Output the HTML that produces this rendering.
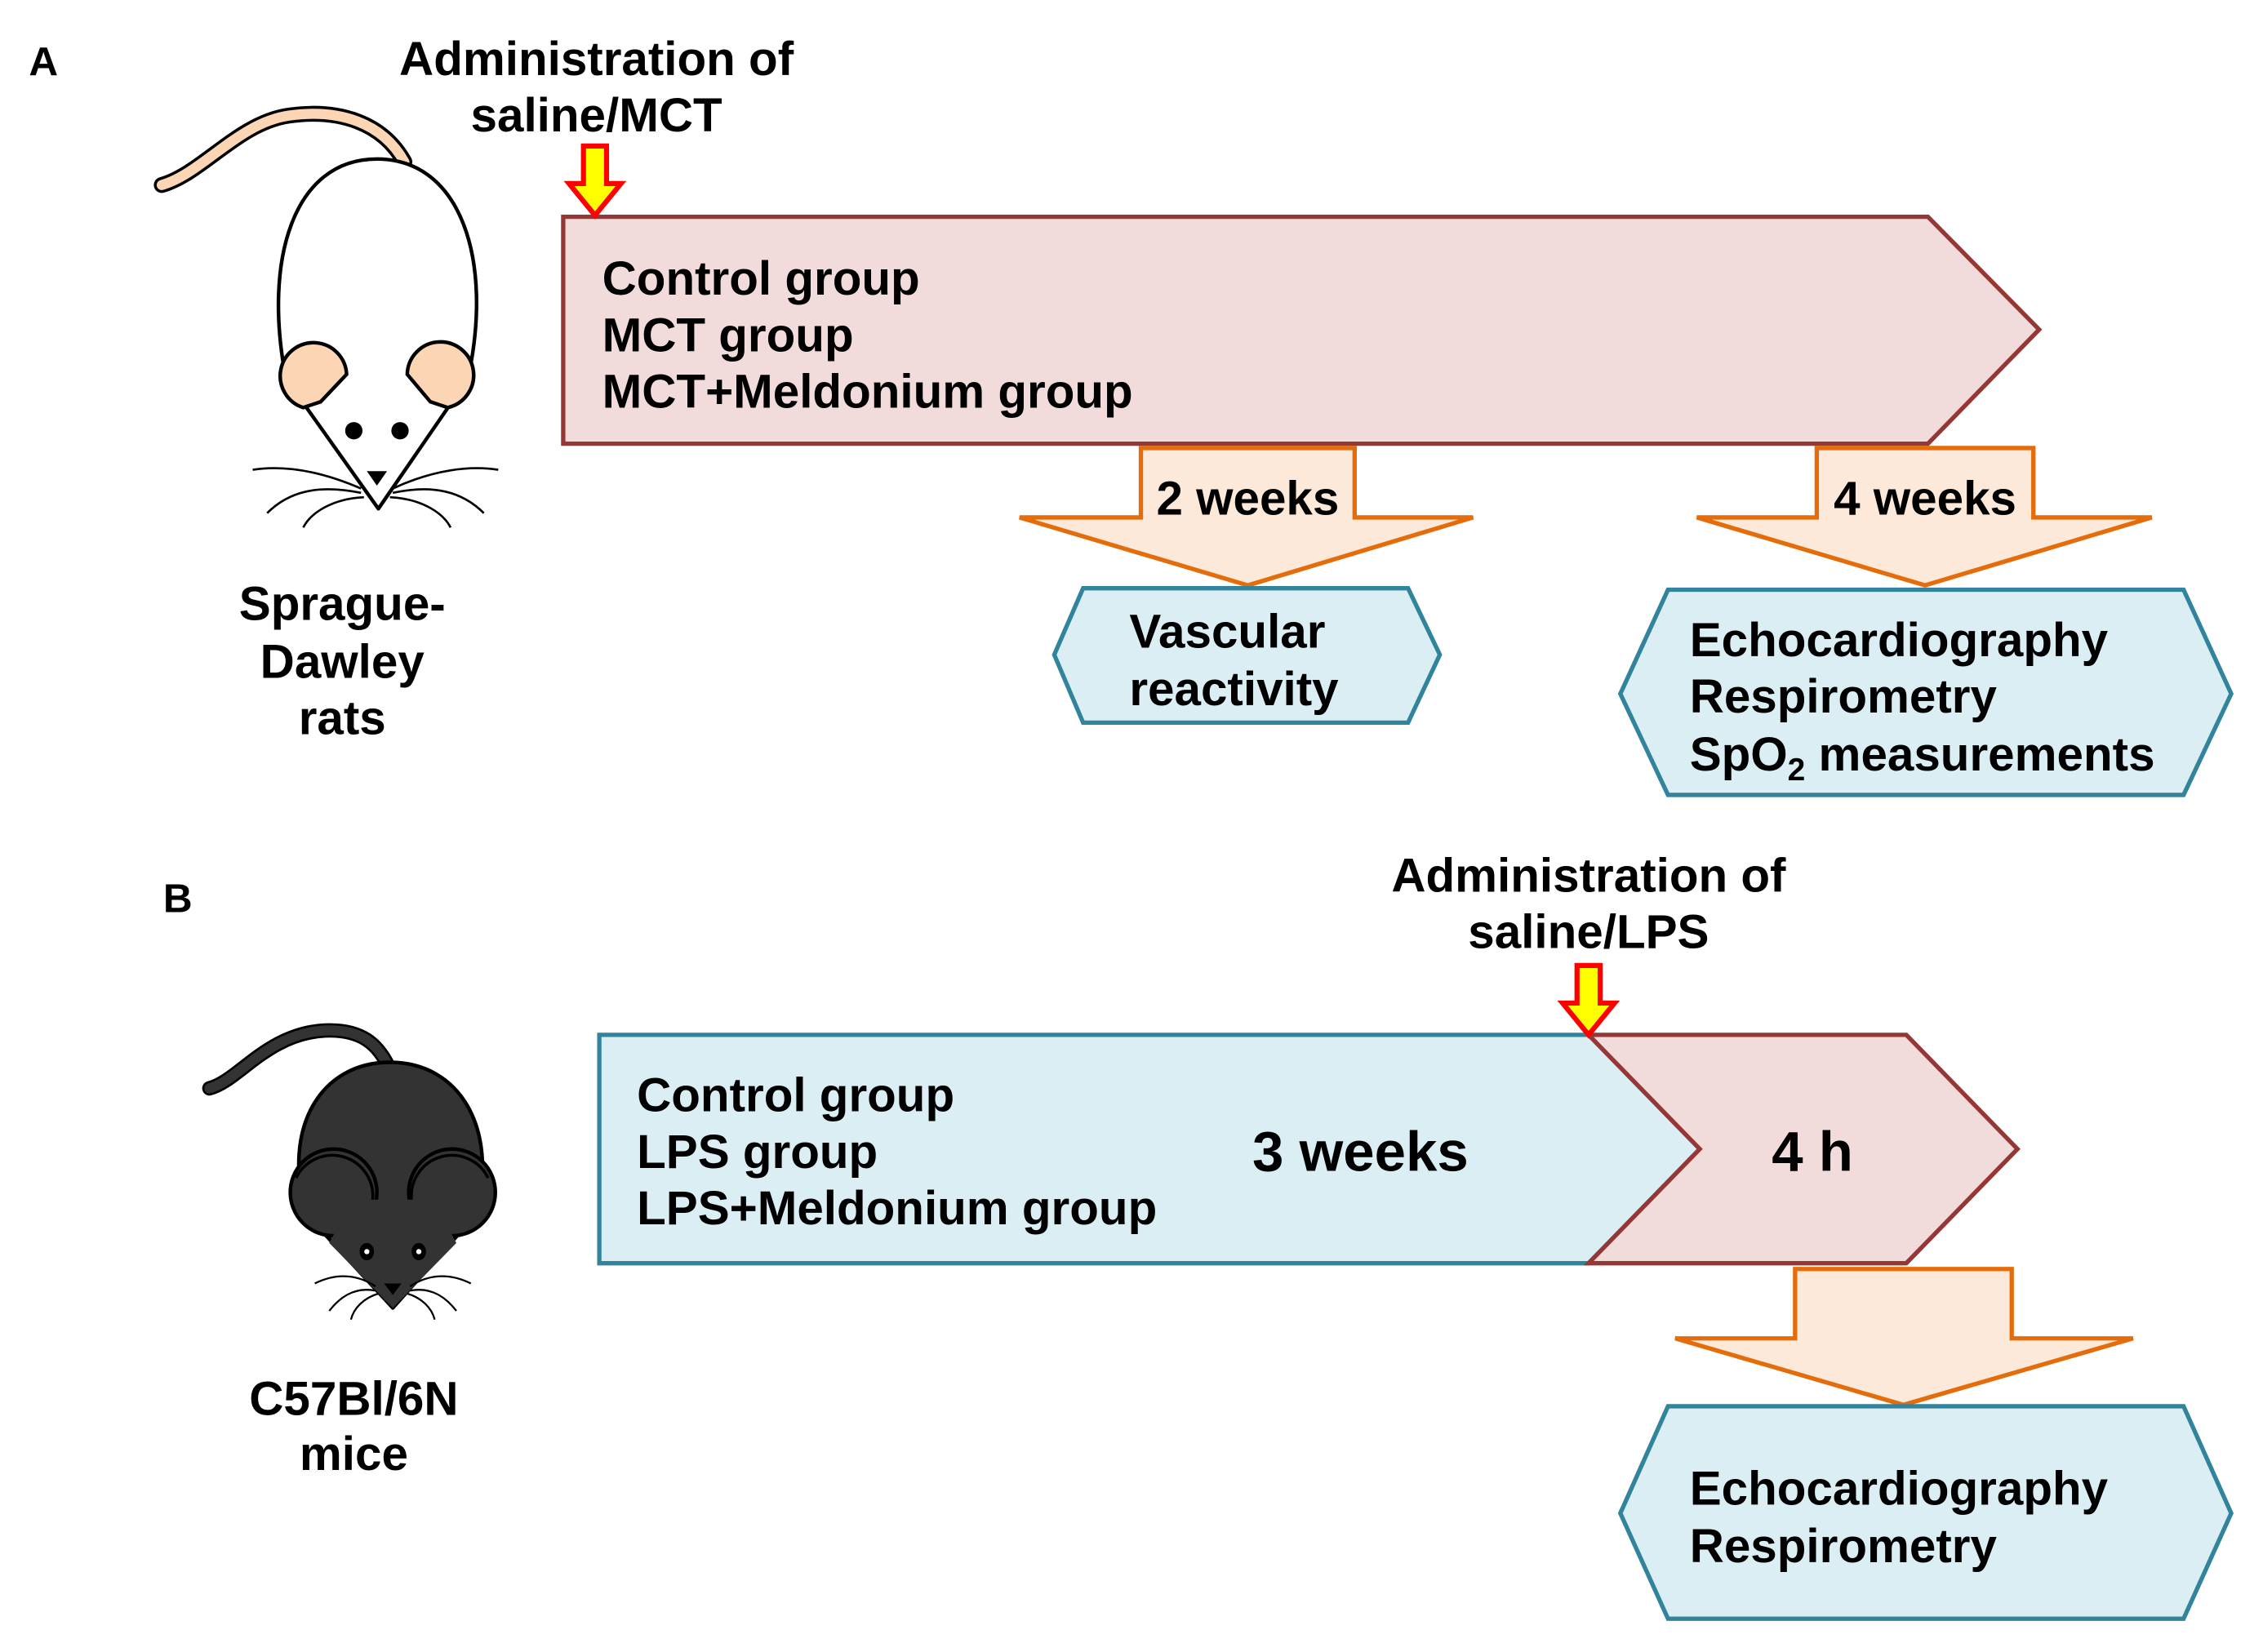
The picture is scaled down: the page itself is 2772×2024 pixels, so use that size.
<!DOCTYPE html>
<html><head><style>html,body{margin:0;padding:0;background:#fff}svg{display:block}</style></head><body>
<svg width="2772" height="2024" viewBox="0 0 1567 1143" preserveAspectRatio="none" xmlns="http://www.w3.org/2000/svg" font-family="Liberation Sans, Arial, sans-serif" font-weight="bold">
<defs>
<g id="redarrow"><polygon points="-8,0 8,0 8,26 18,26 0,48 -18,26 -8,26" fill="#ffff00" stroke="#ff0000" stroke-width="3.5" stroke-linejoin="miter"/></g>
</defs>
<!-- Panel A -->
<text x="20" y="52" font-size="28">A</text>
<text x="413" y="52" font-size="33" text-anchor="middle">Administration of</text>
<text x="413" y="91" font-size="33" text-anchor="middle">saline/MCT</text>
<polygon points="390,150 1335,150 1412,228 1335,307 390,307" fill="#f2dcdb" stroke="#953735" stroke-width="3"/>
<use href="#redarrow" x="412" y="101"/>
<text font-size="33"><tspan x="417" y="204">Control group</tspan><tspan x="417" y="243">MCT group</tspan><tspan x="417" y="282">MCT+Meldonium group</tspan></text>
<polygon points="790,310 938,310 938,358 1020,358 864,405 706,358 790,358" fill="#fde9d9" stroke="#e46c0a" stroke-width="3"/>
<text x="864" y="356" font-size="33" text-anchor="middle">2 weeks</text>
<polygon points="730,453 750,407 975,407 997,453 975,500 750,500" fill="#dbeef4" stroke="#31849b" stroke-width="3"/>
<text font-size="33"><tspan x="782" y="448">Vascular</tspan><tspan x="782" y="488">reactivity</tspan></text>
<polygon points="1258,310 1408,310 1408,358 1490,358 1333,405 1175,358 1258,358" fill="#fde9d9" stroke="#e46c0a" stroke-width="3"/>
<text x="1333" y="356" font-size="33" text-anchor="middle">4 weeks</text>
<polygon points="1122,480 1155,408 1512,408 1545,480 1512,550 1155,550" fill="#dbeef4" stroke="#31849b" stroke-width="3"/>
<text font-size="33"><tspan x="1170" y="454">Echocardiography</tspan><tspan x="1170" y="493">Respirometry</tspan><tspan x="1170" y="533">SpO<tspan font-size="22" dy="7">2</tspan><tspan dy="-7"> measurements</tspan></tspan></text>
<!-- Rat -->
<path d="M112,128 C140,120 165,85 200,80 C235,75 265,85 280,112" fill="none" stroke="#000" stroke-width="11" stroke-linecap="round"/>
<path d="M112,128 C140,120 165,85 200,80 C235,75 265,85 280,112" fill="none" stroke="#fcd5b4" stroke-width="7" stroke-linecap="round"/>
<path d="M198,262 C182,180 203,110 261,110 C319,110 342,180 324,262 L262,352 Z" fill="#fff" stroke="#000" stroke-width="2.5" stroke-linejoin="round"/>
<path d="M210,282 A23,23 0 1 1 240,259 L222,278 Z" fill="#fcd5b4" stroke="#000" stroke-width="2.5"/>
<path d="M310,282 A23,23 0 1 0 282,259 L298,278 Z" fill="#fcd5b4" stroke="#000" stroke-width="2.5"/>
<circle cx="245" cy="298" r="6"/><circle cx="277" cy="298" r="6"/>
<path d="M254,326 L268,326 L261,336 Z"/>
<g fill="none" stroke="#000" stroke-width="1.5">
<path d="M250,338 C220,325 195,322 175,325"/><path d="M250,341 C220,335 200,340 185,355"/><path d="M252,344 C230,345 215,355 210,365"/>
<path d="M272,338 C300,325 325,322 345,325"/><path d="M272,341 C300,335 320,340 335,355"/><path d="M270,344 C292,345 307,355 312,365"/>
</g>
<text font-size="33" text-anchor="middle"><tspan x="237" y="429">Sprague-</tspan><tspan x="237" y="469">Dawley</tspan><tspan x="237" y="508">rats</tspan></text>
<!-- Panel B -->
<text x="113" y="631" font-size="28">B</text>
<text x="1100" y="617" font-size="33" text-anchor="middle">Administration of</text>
<text x="1100" y="656" font-size="33" text-anchor="middle">saline/LPS</text>
<polygon points="415,716 1100,716 1177,795 1100,874 415,874" fill="#dbeef4" stroke="#31849b" stroke-width="3"/>
<polygon points="1100,716 1320,716 1397,795 1320,874 1100,874 1177,795" fill="#f2dcdb" stroke="#953735" stroke-width="3"/>
<use href="#redarrow" x="1100" y="668"/>
<text font-size="33"><tspan x="441" y="769">Control group</tspan><tspan x="441" y="808">LPS group</tspan><tspan x="441" y="847">LPS+Meldonium group</tspan></text>
<text x="942" y="810" font-size="39" text-anchor="middle">3 weeks</text>
<text x="1255" y="810" font-size="39" text-anchor="middle">4 h</text>
<polygon points="1243,878 1393,878 1393,926 1477,926 1318,972 1160,926 1243,926" fill="#fde9d9" stroke="#e46c0a" stroke-width="3"/>
<polygon points="1122,1047 1155,973 1512,973 1545,1047 1512,1120 1155,1120" fill="#dbeef4" stroke="#31849b" stroke-width="3"/>
<text font-size="33"><tspan x="1170" y="1041">Echocardiography</tspan><tspan x="1170" y="1081">Respirometry</tspan></text>
<!-- Mouse -->
<path d="M145,753 C165,748 185,715 225,713 C250,712 262,722 270,740" fill="none" stroke="#000" stroke-width="10" stroke-linecap="round"/>
<path d="M145,753 C165,748 185,715 225,713 C250,712 262,722 270,740" fill="none" stroke="#333" stroke-width="7" stroke-linecap="round"/>
<path d="M212,840 C195,780 222,735 270,735 C318,735 345,780 330,840 L272,905 Z" fill="#333" stroke="#000" stroke-width="2.5" stroke-linejoin="round"/>
<circle cx="231" cy="825" r="30" fill="#333" stroke="#000" stroke-width="2.5"/>
<circle cx="313" cy="825" r="30" fill="#333" stroke="#000" stroke-width="2.5"/>
<path d="M228,860 L272,905 L316,860 L300,830 L244,830 Z" fill="#333"/>
<path d="M205,815 A28,28 0 0 1 258,830" fill="none" stroke="#000" stroke-width="2"/>
<path d="M285,830 A28,28 0 0 1 338,815" fill="none" stroke="#000" stroke-width="2"/>
<ellipse cx="254" cy="866" rx="5" ry="6"/><ellipse cx="290" cy="866" rx="5" ry="6"/>
<circle cx="254" cy="866" r="1.8" fill="#fff"/><circle cx="290" cy="866" r="1.8" fill="#fff"/>
<path d="M266,888 L278,888 L272,896 Z"/>
<g fill="none" stroke="#000" stroke-width="1.3">
<path d="M260,890 C245,880 230,882 218,888"/><path d="M260,893 C245,890 235,898 228,907"/><path d="M262,895 C252,898 245,905 243,913"/>
<path d="M284,890 C299,880 314,882 326,888"/><path d="M284,893 C299,890 309,898 316,907"/><path d="M282,895 C292,898 299,905 301,913"/>
</g>
<text font-size="33" text-anchor="middle"><tspan x="245" y="979">C57Bl/6N</tspan><tspan x="245" y="1017">mice</tspan></text>
</svg>
</body></html>
